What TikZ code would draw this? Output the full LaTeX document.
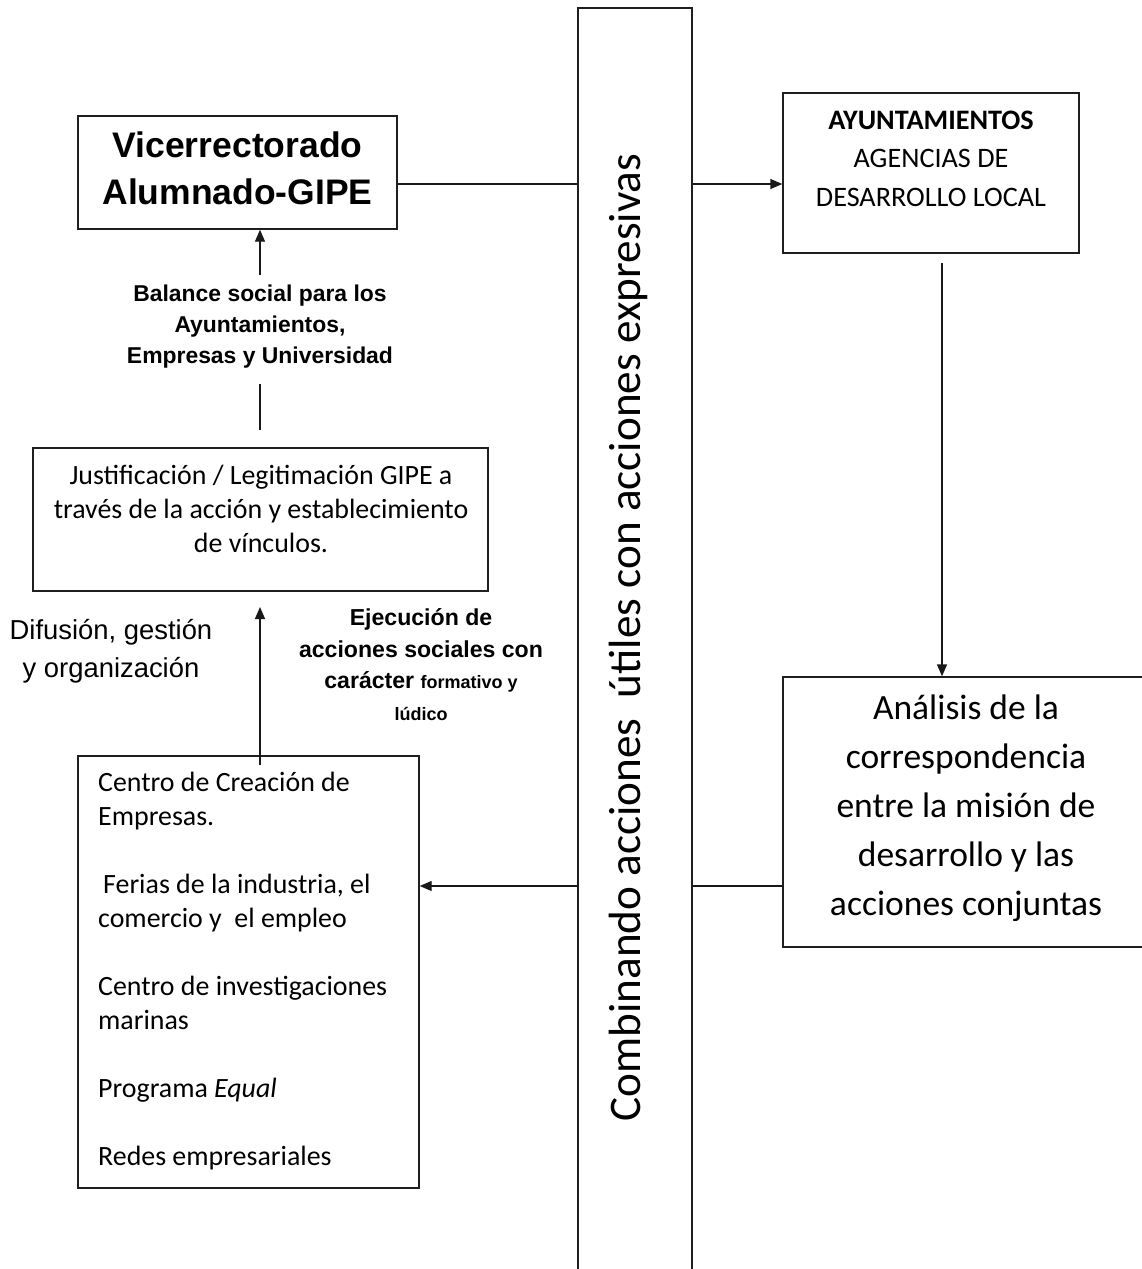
\documentclass[tikz,border=0pt]{standalone}
\usepackage{fontspec}
\setmainfont{Carlito}
\newfontfamily\arial{Liberation Sans}
\usetikzlibrary{arrows.meta}
\begin{document}
\begin{tikzpicture}[x=1pt,y=-1pt,
  box/.style={draw=black!88, line width=1.4pt, inner sep=0pt, rectangle},
  conn/.style={line width=1.4pt, draw=black!90},
  arr/.style={conn, -{Triangle[length=12pt,width=10pt]}},
  txt/.style={inner sep=0pt, align=center}]
\clip (0,0) rectangle (1142,1269);
% boxes
\node[box, minimum width=319pt, minimum height=113pt] (vice) at (237.5,172.5) {};
\node[box, minimum width=455pt, minimum height=143pt] (just) at (260.5,519.5) {};
\node[box, minimum width=341pt, minimum height=432pt] (centro) at (248.5,972) {};
\node[box, minimum width=114pt, minimum height=1280pt] (bar) at (635,648) {};
\node[box, minimum width=296pt, minimum height=160pt] (ayto) at (931,173) {};
\node[box, minimum width=367pt, minimum height=270pt] (anal) at (966.5,812) {};
% texts
\node[txt, font={\arial\bfseries\fontsize{35.5}{47}\selectfont}] (vicet) at (237.5,168.5) {Vicerrectorado\\Alumnado-GIPE};
\node[txt, font={\arial\bfseries\fontsize{22.9}{31}\selectfont}] (balt) at (260,327) {Balance social para los\\Ayuntamientos,\\Empresas y Universidad};
\node[txt, font={\fontsize{27.9}{34}\selectfont}] (justt) at (261,509) {Justificación / Legitimación GIPE a\\través de la acción y establecimiento\\de vínculos.};
\node[txt, font={\arial\fontsize{27.4}{38}\selectfont}] (dift) at (111,651) {Difusión, gestión\\y organización};
\node[txt, font={\arial\bfseries\fontsize{23.1}{31.5}\selectfont}] (ejet) at (421,664.5) {Ejecución de\\acciones sociales con\\carácter {\fontsize{18}{31.5}\selectfont formativo y}\\{\fontsize{18}{31.5}\selectfont lúdico}};
\node[inner sep=0pt, align=left, anchor=west, font={\fontsize{27.9}{34}\selectfont}] (centrot) at (98,971) {Centro de Creación de\\Empresas.\\[34pt]\hspace*{5pt}Ferias de la industria, el\\comercio y\ \ el empleo\\[34pt]Centro de investigaciones\\marinas\\[34pt]Programa \textit{Equal}\\[34pt]Redes empresariales};
\node[txt, rotate=90, font={\fontsize{45.2}{54}\selectfont}] (bart) at (628,637.5) {Combinando acciones\ \ útiles con acciones expresivas};
\node[txt, font={\fontsize{28.2}{38.5}\selectfont}] (aytot) at (931,158.5) {\textbf{AYUNTAMIENTOS}\\AGENCIAS DE\\DESARROLLO LOCAL};
\node[txt, font={\fontsize{35.5}{49}\selectfont}] (analt) at (966,808) {Análisis de la\\correspondencia\\entre la misión de\\desarrollo y las\\acciones conjuntas};
% connectors
\coordinate (h1) at (0,184);
\coordinate (h2) at (0,886);
\draw[conn] (vice.east |- h1) -- (bar.west |- h1);
\draw[arr] (bar.east |- h1) -- (ayto.west |- h1);
\coordinate (a1) at (942,263);
\draw[arr] (a1) -- (anal.north -| a1);
\draw[conn] (anal.west |- h2) -- (bar.east |- h2);
\draw[arr] (bar.west |- h2) -- (centro.east |- h2);
\coordinate (c1) at (260,765);
\coordinate (c2) at (260,607);
\draw[arr] (c1) -- (c2);
\coordinate (b1) at (260,430);
\coordinate (b2) at (260,384);
\coordinate (b3) at (260,275);
\draw[conn] (b1) -- (b2);
\draw[arr] (b3) -- (vice.south -| b3);
\end{tikzpicture}
\end{document}
